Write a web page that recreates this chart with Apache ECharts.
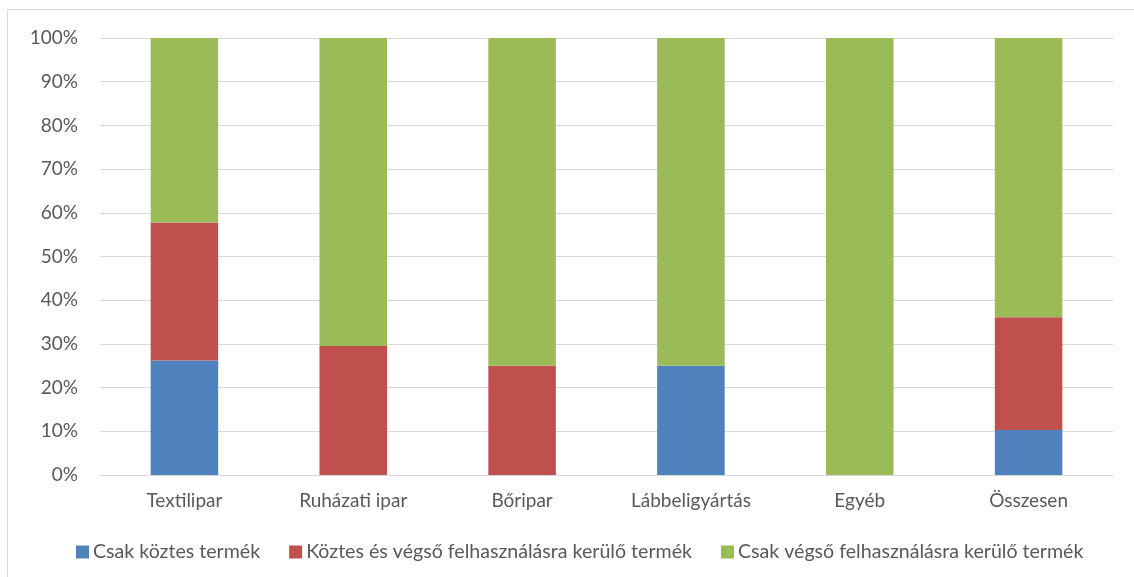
<!DOCTYPE html>
<html>
<head>
<meta charset="utf-8">
<script src="https://cdn.jsdelivr.net/npm/echarts@6/dist/echarts.min.js"></script>
<style>
  html, body { margin: 0; padding: 0; background: #fff; }
  #chart { width: 1134px; height: 577px; }
</style>
</head>
<body>
<div id="chart"></div>
<script>
// kategóriák
var categories = ['Textilipar', 'Ruházati ipar', 'Bőripar', 'Lábbeligyártás', 'Egyéb', 'Összesen'];
// sorozatok (%)
var csakKoztes = [26.2, 0, 0, 25, 0, 10.3];
var koztesEsVegso = [31.6, 29.5, 25, 0, 0, 25.8];
var csakVegso = [42.2, 70.5, 75, 75, 100, 63.9];
var seriesNames = ['Csak köztes termék', 'Köztes és végső felhasználásra kerülő termék', 'Csak végső felhasználásra kerülő termék'];

var font = 'Lato, "Noto Sans", sans-serif';
var textColor = '#595959';

var chart = echarts.init(document.getElementById('chart'));

function bar(name, data, color) {
  return {
    name: name,
    type: 'bar',
    stack: 'total',
    barWidth: '40%',
    data: data,
    itemStyle: { color: color },
    emphasis: { disabled: true }
  };
}

chart.setOption({
  animation: false,
  color: ['#4f81bd', '#c0504d', '#9bbb59'],
  grid: { left: 100, right: 21, top: 38, bottom: 102 },
  graphic: [{
    type: 'rect',
    shape: { x: 7.5, y: 9.5, width: 1200, height: 700 },
    style: { fill: 'none', stroke: '#d9d9d9', lineWidth: 1 },
    silent: true
  }],
  legend: {
    bottom: 15,
    left: 76,
    padding: 0,
    itemWidth: 13,
    itemHeight: 13,
    itemGap: 29,
    icon: 'rect',
    textStyle: { color: textColor, fontSize: 19.6, fontFamily: font, padding: [0, 0, 0, -1] },
    data: seriesNames
  },
  xAxis: {
    type: 'category',
    data: categories,
    axisLine: { lineStyle: { color: '#d9d9d9' } },
    axisTick: { show: false },
    axisLabel: { color: textColor, fontSize: 19, fontFamily: font, margin: 16 }
  },
  yAxis: {
    type: 'value',
    min: 0,
    max: 100,
    interval: 10,
    axisLine: { show: false },
    axisTick: { show: false },
    splitLine: { lineStyle: { color: '#d9d9d9', width: 1 } },
    axisLabel: { color: textColor, fontSize: 19, fontFamily: font, margin: 22, formatter: '{value}%' }
  },
  series: [
    bar(seriesNames[0], csakKoztes, '#4f81bd'),
    bar(seriesNames[1], koztesEsVegso, '#c0504d'),
    bar(seriesNames[2], csakVegso, '#9bbb59')
  ]
});
</script>
</body>
</html>
